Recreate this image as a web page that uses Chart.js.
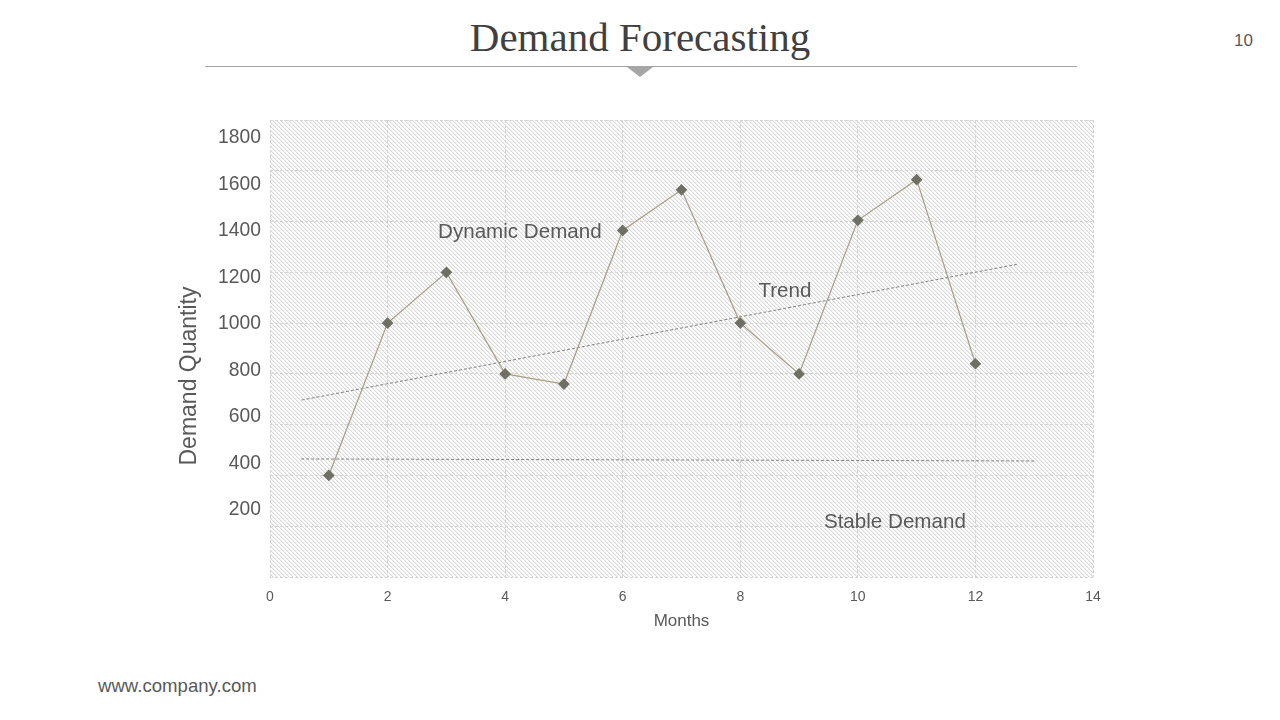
<!DOCTYPE html>
<html>
<head>
<meta charset="utf-8">
<script src="https://cdn.jsdelivr.net/npm/chart.js@4"></script>
<style>
  html, body { margin:0; padding:0; background:#fff; }
  body { width:1280px; height:720px; position:relative; overflow:hidden; font-family:"Liberation Sans", Arial, sans-serif; }
  #title { position:absolute; left:0; width:1280px; top:13px; text-align:center; font-family:"Liberation Serif", serif; font-size:41px; color:#404040; }
  #rule { position:absolute; left:205px; width:872px; top:66px; height:1px; background:#a6a6a6; }
  #tri { position:absolute; left:627px; top:67px; width:0; height:0; border-left:13px solid transparent; border-right:13px solid transparent; border-top:10px solid #a6a6a6; }
  #page { position:absolute; left:1234px; top:31px; font-size:17px; color:#595959; }
  #footer { position:absolute; left:98px; top:675px; font-size:18.6px; color:#595959; }
  #c { position:absolute; left:0; top:0; }
</style>
</head>
<body>
<div id="title">Demand Forecasting</div>
<div id="rule"></div>
<div id="tri"></div>
<div id="page">10</div>
<div id="footer">www.company.com</div>
<canvas id="c" width="1280" height="720"></canvas>
<script>
// ---- data ----
const months = [1, 2, 3, 4, 5, 6, 7, 8, 9, 10, 11, 12];
const dynamicDemand = [400, 1000, 1200, 800, 760, 1365, 1525, 1000, 800, 1405, 1565, 840];
const trendX = [0.54, 12.74];
const trendY = [697, 1233];
const stableX = [0.53, 13.03];
const stableY = [465, 457];
const xTicks = [0, 2, 4, 6, 8, 10, 12, 14];
const yTickLabels = [200, 400, 600, 800, 1000, 1200, 1400, 1600, 1800];
const annotationTexts = ["Dynamic Demand", "Trend", "Stable Demand"];
const annotationX = [4.25, 8.76, 10.63];
const annotationY = [1359, 1126, 217];

// hatch pattern
function makePattern(ctx) {
  const t = document.createElement('canvas');
  t.width = 4; t.height = 4;
  const g = t.getContext('2d');
  g.fillStyle = '#ffffff'; g.fillRect(0, 0, 4, 4);
  for (let i = 0; i < 4; i++) {
    g.fillStyle = '#d8d8d8'; g.fillRect(i, i, 1, 1);
    g.fillStyle = '#f1f1f1'; g.fillRect((i + 1) % 4, i, 1, 1);
  }
  return ctx.createPattern(t, 'repeat');
}

const bgPlugin = {
  id: 'hatchBg',
  beforeDraw(chart) {
    const { ctx, chartArea: a } = chart;
    ctx.save();
    ctx.fillStyle = makePattern(ctx);
    ctx.fillRect(a.left, a.top, a.right - a.left, a.bottom - a.top);
    ctx.restore();
  }
};

const textPlugin = {
  id: 'texts',
  afterDraw(chart) {
    const { ctx } = chart;
    const xs = chart.scales.x, ys = chart.scales.y;
    ctx.save();
    ctx.fillStyle = '#595959';
    ctx.font = '20.6px "Liberation Sans", Arial, sans-serif';
    ctx.textAlign = 'center';
    ctx.textBaseline = 'middle';
    annotationTexts.forEach((t, i) => {
      ctx.fillText(t, xs.getPixelForValue(annotationX[i]), ys.getPixelForValue(annotationY[i]));
    });
    // y axis title
    ctx.translate(190, 376);
    ctx.rotate(-Math.PI / 2);
    ctx.font = '23px "Liberation Sans", Arial, sans-serif';
    ctx.fillText('Demand Quantity', 0, 0);
    ctx.restore();
  }
};

const gridCommon = { color: '#d4d4d4', lineWidth: 1, drawTicks: false };

new Chart(document.getElementById('c'), {
  type: 'scatter',
  data: {
    datasets: [
      {
        label: 'Dynamic Demand',
        data: months.map((m, i) => ({ x: m, y: dynamicDemand[i] })),
        showLine: true,
        borderColor: '#a89e80',
        borderWidth: 1.2,
        pointStyle: 'rectRot',
        pointRadius: 5,
        pointBackgroundColor: '#6f6f63',
        pointBorderColor: '#6f6f63',
        tension: 0,
        yAxisID: 'y'
      },
      {
        label: 'Trend',
        data: trendX.map((x, i) => ({ x, y: trendY[i] })),
        showLine: true,
        borderColor: '#808080',
        borderWidth: 1,
        borderDash: [3, 2],
        pointRadius: 0,
        yAxisID: 'y'
      },
      {
        label: 'Stable',
        data: stableX.map((x, i) => ({ x, y: stableY[i] })),
        showLine: true,
        borderColor: '#808080',
        borderWidth: 1,
        borderDash: [3, 2],
        pointRadius: 0,
        yAxisID: 'y'
      }
    ]
  },
  options: {
    responsive: false,
    animation: false,
    layout: { padding: { left: 0, right: 187, top: 120, bottom: 83 } },
    plugins: { legend: { display: false }, tooltip: { enabled: false } },
    scales: {
      x: {
        type: 'linear', min: 0, max: 14,
        afterBuildTicks: (ax) => { ax.ticks = xTicks.map(v => ({ value: v })); },
        afterFit: (ax) => { ax.height = 60; },
        grid: gridCommon,
        border: { display: false, dash: [3, 2] },
        ticks: { color: '#595959', font: { size: 14, family: '"Liberation Sans", Arial, sans-serif' }, padding: 12, callback: (v) => String(v) },
        title: { display: true, text: 'Months', color: '#595959', font: { size: 17, family: '"Liberation Sans", Arial, sans-serif' }, padding: { top: 4, bottom: 5 } }
      },
      y: {
        type: 'linear', position: 'left', min: 0, max: 1800,
        ticks: { display: false, stepSize: 200 },
        afterFit: (ax) => { ax.width = 0; },
        grid: gridCommon,
        border: { display: false, dash: [3, 2] }
      },
      yl: {
        type: 'linear', position: 'left', min: -88.2, max: 1877.4,
        afterBuildTicks: (ax) => { ax.ticks = yTickLabels.map(v => ({ value: v })); },
        afterFit: (ax) => { ax.width = 270; },
        grid: { display: false, drawTicks: false, drawOnChartArea: false },
        border: { display: false },
        ticks: { color: '#595959', font: { size: 19.3, family: '"Liberation Sans", Arial, sans-serif' }, padding: 9, callback: (v) => String(v) }
      }
    }
  },
  plugins: [bgPlugin, textPlugin]
});
</script>
</body>
</html>
